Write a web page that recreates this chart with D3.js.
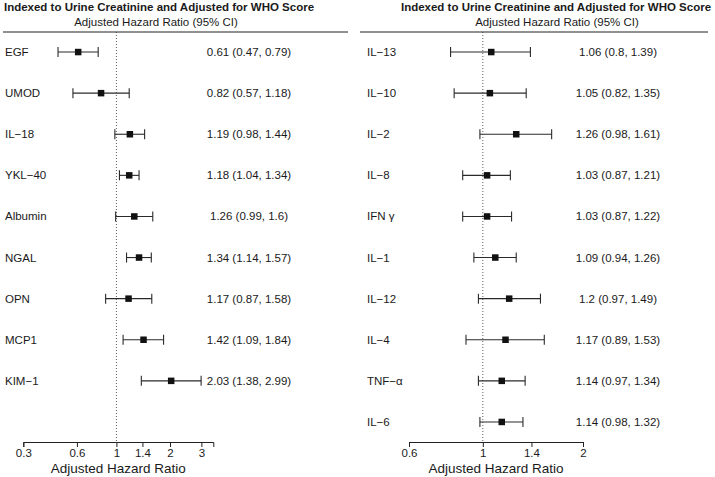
<!DOCTYPE html>
<html><head><meta charset="utf-8">
<script src="https://cdn.jsdelivr.net/npm/d3@7"></script>
<style>
html,body{margin:0;padding:0;background:#fff;}
svg text{font-family:"Liberation Sans",Arial,Helvetica,sans-serif;fill:#1a1a1a;}
</style></head>
<body><svg id="chart" width="715" height="477"></svg>
<script>
// ---- data ----
const leftMarkers = ["EGF","UMOD","IL\u221218","YKL\u221240","Albumin","NGAL","OPN","MCP1","KIM\u22121"];
const leftHR  = [0.61,0.82,1.19,1.18,1.26,1.34,1.17,1.42,2.03];
const leftLo  = [0.47,0.57,0.98,1.04,0.99,1.14,0.87,1.09,1.38];
const leftHi  = [0.79,1.18,1.44,1.34,1.6,1.57,1.58,1.84,2.99];
const leftTicks = [0.3,0.6,1,1.4,2,3];

const rightMarkers = ["IL\u221213","IL\u221210","IL\u22122","IL\u22128","IFN \u03b3","IL\u22121","IL\u221212","IL\u22124","TNF\u2212\u03b1","IL\u22126"];
const rightHR = [1.06,1.05,1.26,1.03,1.03,1.09,1.2,1.17,1.14,1.14];
const rightLo = [0.8,0.82,0.98,0.87,0.87,0.94,0.97,0.89,0.97,0.98];
const rightHi = [1.39,1.35,1.61,1.21,1.22,1.26,1.49,1.53,1.34,1.32];
const rightTicks = [0.6,1,1.4,2];

const titleText = "Indexed to Urine Creatinine and Adjusted for WHO Score";
const subtitleText = "Adjusted Hazard Ratio (95% CI)";
const axisTitle = "Adjusted Hazard Ratio";
const nRows = 10;

const svg = d3.select("#chart");

function panel(cfg){
  const g = svg.append("g");
  const x = d3.scaleLog().domain(cfg.domain).range(cfg.range);
  const y = d3.scaleBand().domain(d3.range(nRows)).range([31.5, 442.5]);
  const rows = cfg.markers.map((m,i)=>({m, hr:cfg.hr[i], lo:cfg.lo[i], hi:cfg.hi[i], i}));

  // header
  g.append("text").attr("x", cfg.titleX).attr("y", 11).attr("text-anchor","middle")
    .attr("font-weight","bold").attr("font-size","11.5px").text(titleText);
  g.append("text").attr("x", cfg.subX).attr("y", 26).attr("text-anchor","middle")
    .attr("font-size","11.5px").text(subtitleText);
  g.append("line").attr("x1", cfg.lineX[0]).attr("x2", cfg.lineX[1])
    .attr("y1", 32).attr("y2", 32).attr("stroke","#222").attr("stroke-width",1);

  // reference line at 1
  g.append("line").attr("x1", x(1)).attr("x2", x(1)).attr("y1", 32).attr("y2", 442)
    .attr("stroke","#333").attr("stroke-width",0.8).attr("stroke-dasharray","1,2");

  const cy = d => y(d.i) + y.bandwidth()/2;
  const rg = g.selectAll("g.row").data(rows).join("g").attr("class","row");
  rg.append("text").attr("x", cfg.labelX).attr("y", d=>cy(d)).attr("dy","0.35em")
    .attr("font-size","11.5px").text(d=>d.m);
  rg.append("line").attr("x1", d=>x(d.lo)).attr("x2", d=>x(d.hi))
    .attr("y1", cy).attr("y2", cy).attr("stroke","#2a2a2a").attr("stroke-width",1.1);
  rg.append("line").attr("x1", d=>x(d.lo)).attr("x2", d=>x(d.lo))
    .attr("y1", d=>cy(d)-5).attr("y2", d=>cy(d)+5).attr("stroke","#2a2a2a").attr("stroke-width",1.1);
  rg.append("line").attr("x1", d=>x(d.hi)).attr("x2", d=>x(d.hi))
    .attr("y1", d=>cy(d)-5).attr("y2", d=>cy(d)+5).attr("stroke","#2a2a2a").attr("stroke-width",1.1);
  rg.append("rect").attr("x", d=>x(d.hr)-3.25).attr("y", d=>cy(d)-3.25)
    .attr("width",6.5).attr("height",6.5).attr("fill","#111");
  rg.append("text").attr("x", cfg.valueX).attr("y", d=>cy(d)).attr("dy","0.35em")
    .attr("text-anchor","middle").attr("font-size","11.5px")
    .text(d=>`${d.hr} (${d.lo}, ${d.hi})`);

  // axis
  const ax = d3.axisBottom(x).tickValues(cfg.ticks).tickFormat(d=>String(d)).tickSize(5).tickPadding(2);
  const axg = g.append("g").attr("transform","translate(0,442)").call(ax);
  axg.select(".domain").attr("stroke","#222");
  axg.selectAll(".tick line").attr("stroke","#222");
  axg.selectAll(".tick text").attr("font-size","11.5px").attr("fill","#1a1a1a")
     .attr("font-family","Liberation Sans, Arial, sans-serif");
  g.append("text").attr("x", (cfg.range[0]+cfg.range[1])/2).attr("y", 473)
    .attr("text-anchor","middle").attr("font-size","13.5px").text(axisTitle);
}

panel({markers:leftMarkers, hr:leftHR, lo:leftLo, hi:leftHi, ticks:leftTicks,
  domain:[0.3,3.5], range:[23.3,213.3], titleX:159, subX:156, lineX:[3,348],
  labelX:5, valueX:249});
panel({markers:rightMarkers, hr:rightHR, lo:rightLo, hi:rightHi, ticks:rightTicks,
  domain:[0.6,2], range:[409,583], titleX:556, subX:557, lineX:[360,708],
  labelX:367, valueX:618});
</script></body></html>
